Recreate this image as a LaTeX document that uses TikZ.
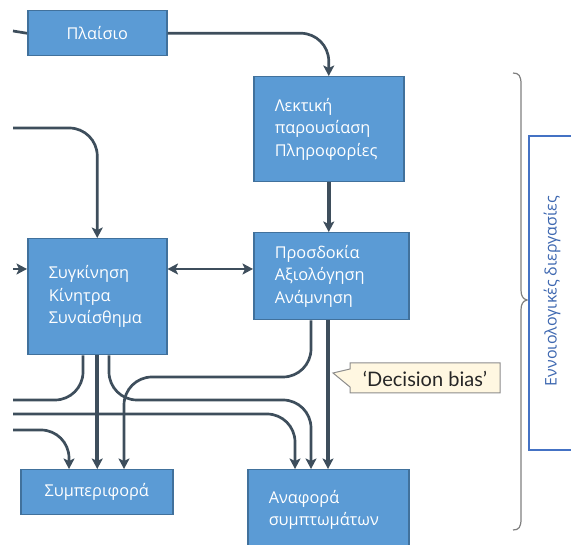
\documentclass[tikz,border=0pt]{standalone}
\usepackage{fontspec}
\setmainfont{Open Sans}
\newfontfamily\latofont{Lato}
\usetikzlibrary{arrows.meta,calc}
\definecolor{boxfill}{HTML}{5B9BD5}
\definecolor{boxline}{HTML}{41719C}
\definecolor{connc}{HTML}{3E4E5C}
\definecolor{callfill}{HTML}{FFF7E1}
\definecolor{callline}{HTML}{8C8C8C}
\definecolor{bluefr}{HTML}{4472C4}
\definecolor{bracec}{HTML}{7F7F7F}
\begin{document}
\begin{tikzpicture}[x=1pt,y=-1pt,
  blk/.style={draw=boxline, fill=boxfill, line width=1.5pt, text=white,
    font=\fontsize{16.3}{22.5}\selectfont, inner sep=0pt, anchor=north west},
  conn/.style={draw=connc, line width=2.7pt, rounded corners=28pt},
  thickconn/.style={conn, line width=3.7pt},
  arr/.style={-{Stealth[length=10.5pt,width=11pt,inset=2.5pt]}},
  darr/.style={{Stealth[length=10.5pt,width=11pt,inset=2.5pt]}-{Stealth[length=10.5pt,width=11pt,inset=2.5pt]}}]
\useasboundingbox (0,0) rectangle (571,545);
\clip (0,0) rectangle (571,545);

% boxes
\node[blk, minimum width=139, minimum height=45] (pl) at (27,10) {Πλαίσιο};
\node[blk, minimum width=150, minimum height=105, text width=108, align=left] (lp) at (253,76) {Λεκτική\\παρουσίαση\\Πληροφορίες};
\node[blk, minimum width=155, minimum height=87, text width=113, align=left] (pr) at (253,232) {Προσδοκία\\Αξιολόγηση\\Ανάμνηση};
\node[blk, minimum width=139, minimum height=116, text width=97, align=left] (sy) at (27,238) {Συγκίνηση\\Κίνητρα\\Συναίσθημα};
\node[blk, minimum width=152, minimum height=45] (sb) at (20,469) {Συμπεριφορά};
\node[blk, minimum width=161, minimum height=80, text width=119, align=left] (an) at (247,469) {Αναφορά\\συμπτωμάτων};

% free ends
\coordinate (inPl) at (13,31);
\coordinate (inTop) at (13,128);
\coordinate (inMid) at (13,269);
\coordinate (outA) at (13,400);
\coordinate (inD) at (13,414);
\coordinate (inE) at (13,430);
\coordinate (bendC) at (311,400);
\coordinate (bendF) at (124,377);

% targets / sources on boxes
\coordinate (s1) at ($(sb.north west)+(49,0)$);
\coordinate (s3) at ($(sb.north west)+(104,0)$);
\coordinate (a1) at ($(an.north west)+(48,0)$);
\coordinate (a2) at ($(an.north west)+(64,0)$);
\coordinate (a3) at ($(an.north west)+(81,0)$);
\coordinate (y1) at ($(sy.south west)+(56,0)$);
\coordinate (y3) at ($(sy.south west)+(82,0)$);
\coordinate (p1) at ($(pr.south west)+(58,0)$);
\coordinate (p2) at ($(pr.south west)+(75,0)$);

% connectors
\draw[conn] (inPl) -- (pl.west);
\draw[conn,arr] (pl.east) -| (lp.north);
\draw[conn,arr] (inTop) -| (sy.north);
\draw[conn,arr] (inMid) -- (inMid -| sy.west);
\draw[conn,darr] (sy.east |- inMid) -- (pr.west |- inMid);
\draw[thickconn,arr] (lp.south) -- (lp.south |- pr.north);
\draw[conn] (y1) |- (outA);
\draw[thickconn,arr] (sy.south) -- (sy.south |- sb.north);
\draw[conn,arr] (y3) |- (bendC) -- (a2);
\draw[conn,arr] (inD) -| (a1);
\draw[conn,arr] (inE) -| (s1);
\draw[conn,arr] (p1) |- (bendF) -- (s3);
\draw[thickconn,arr] (p2) -- (a3);

% callout
\draw[callline, fill=callfill, line width=1pt] (350,363) -- (500,363) -- (500,393) -- (350,393) -- (350,387) -- (333,373) -- (350,369) -- cycle;
\node[font=\latofont\fontsize{20}{22}\selectfont, text=black!85] (db) at (425,378.5) {‘Decision bias’};

% brace
\draw[bracec, line width=1.2pt] (513,73) .. controls (519,73) and (521,76) .. (521,84) -- (521,290)
  .. controls (521,296) and (523,299) .. (527,300) .. controls (523,301) and (521,304) .. (521,310)
  -- (521,519) .. controls (521,527) and (519,530) .. (513,530);

% right frame
\draw[bluefr, line width=2pt] (529,136) rectangle (590,450);
\node[rotate=90, text=bluefr!90!black, font=\fontsize{16}{18}\selectfont] (ed) at (552,291) {Εννοιολογικές διεργασίες};
\end{tikzpicture}
\end{document}
